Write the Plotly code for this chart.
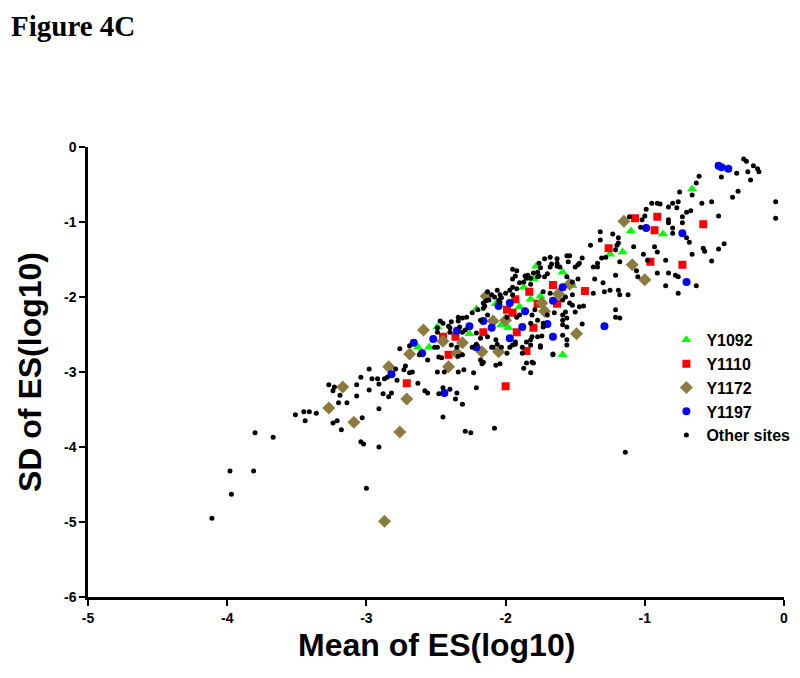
import plotly.graph_objects as go

# ---- data (log10 mean / SD of ES) ----
y1092_x = [-0.66, -1.10, -0.87, -1.25, -1.16, -1.78, -1.59, -1.80, -1.52, -1.87, -1.75, -1.82,
           -2.07, -2.21, -1.90, -1.98, -2.03, -2.26, -2.49, -2.63, -2.55, -1.59]
y1092_y = [-0.56, -1.12, -1.16, -1.43, -1.40, -1.59, -1.67, -1.76, -1.85, -1.87, -1.99, -2.03,
           -2.09, -2.16, -2.13, -2.41, -2.37, -2.49, -2.40, -2.67, -2.67, -2.77]

y1110_x = [-1.07, -0.91, -0.58, -0.93, -1.26, -0.96, -0.73, -1.43, -1.66, -1.63, -1.77, -1.80,
           -1.83, -1.93, -1.99, -1.95, -2.16, -1.92, -2.36, -2.45, -1.85, -2.41, -2.71, -2.00]
y1110_y = [-0.95, -0.93, -1.03, -1.11, -1.35, -1.53, -1.57, -1.92, -1.84, -2.09, -2.09, -2.41,
           -1.93, -2.03, -2.17, -2.21, -2.47, -2.47, -2.53, -2.53, -2.72, -2.77, -3.15, -3.19]

y1172_x = [-1.15, -1.09, -1.00, -1.54, -1.62, -1.74, -1.72, -1.49, -2.14, -2.59, -2.09, -2.00,
           -2.31, -2.45, -2.69, -2.35, -2.17, -2.05, -2.84, -2.41, -3.17, -3.27, -3.09, -2.71,
           -2.76, -2.87]
y1172_y = [-0.99, -1.57, -1.77, -1.83, -1.96, -2.08, -2.19, -2.49, -1.99, -2.44, -2.32, -2.31,
           -2.61, -2.59, -2.76, -2.75, -2.73, -2.73, -2.93, -2.93, -3.20, -3.48, -3.67, -3.36,
           -3.80, -4.99]

y1197_x = [-0.47, -0.45, -0.40, -0.99, -0.73, -0.70, -1.59, -1.66, -1.70, -1.66, -1.29, -2.05,
           -1.97, -1.86, -2.26, -2.16, -2.10, -1.88, -2.35, -1.97, -2.52, -2.66, -2.60, -2.21,
           -2.82, -2.44]
y1197_y = [-0.25, -0.27, -0.29, -1.08, -1.15, -1.80, -1.87, -2.05, -2.36, -2.53, -2.39, -2.12,
           -2.08, -2.19, -2.39, -2.32, -2.41, -2.40, -2.45, -2.55, -2.56, -2.61, -2.75, -2.67,
           -3.03, -3.28]

other_x = [
    -4.11, -3.98, -3.97, -3.80, -3.81, -3.67, -3.51, -3.45, -3.44, -3.41, -3.36,
    -3.27, -3.23, -3.24, -3.19, -3.20, -3.14, -3.24, -3.21, -3.18, -3.07, -3.07, -3.04, -3.03,
    -3.04, -3.02, -3.00, -2.98, -2.98, -2.96, -2.92, -2.91, -2.91, -2.91, -2.87, -2.85, -2.84,
    -2.82, -2.88, -2.78, -2.79, -2.76, -2.73, -2.72, -2.69, -2.67, -2.63, -2.58, -2.56, -2.56,
    -2.62, -2.49, -2.48, -2.45, -2.44, -2.45, -2.40, -2.36, -2.35, -2.34, -2.31, -2.30, -2.29,
    -2.25, -2.23, -2.21, -2.17, -2.16, -2.08, -2.07, -2.04, -1.87, -1.85, -1.82, -1.81, -2.48,
    -2.46, -2.49, -2.35, -2.34, -2.31, -2.21, -2.10, -2.06, -1.99, -1.97, -1.88, -1.80, -1.75,
    -1.66, -1.93, -1.85, -1.56, -1.14,
    -0.29, -0.27, -0.22, -0.19, -0.18, -0.26, -0.24, -0.34, -0.45, -0.33, -0.37, -0.61, -0.63,
    -0.75, -0.66, -0.59, -0.52, -0.06, -0.06, -0.95, -0.91, -0.89, -0.83, -0.80, -0.76, -0.77,
    -0.99, -0.70, -0.67, -0.73, -0.83, -0.83, -0.73, -1.00, -1.02, -1.03, -1.11, -0.80, -0.80,
    -0.47, -0.70, -0.68, -0.43, -0.47, -0.58, -0.57, -0.52, -0.66, -1.32, -1.23, -1.19, -1.19,
    -1.20, -1.21, -1.08, -1.01, -0.98, -0.93, -0.91, -0.85, -1.18, -1.32, -1.39, -1.28, -1.31,
    -1.34, -1.37, -1.45, -1.47, -1.54, -1.55, -1.61, -1.63, -1.68, -1.70, -1.72, -1.77, -1.80,
    -1.50, -1.48, -1.34, -1.21, -1.30, -1.36, -1.48, -1.52, -1.56, -1.52, -1.54, -1.52, -1.50,
    -1.57, -1.59, -1.59, -1.56, -1.47, -1.44, -1.37, -1.29, -1.25, -1.19, -1.18, -1.12, -1.06,
    -1.05, -0.91, -0.83, -0.78, -0.76, -0.85, -0.76, -0.63, -1.21, -1.21, -1.18, -1.45, -1.56,
    -1.73, -1.74, -1.75, -1.81, -1.82, -1.66,
    -1.63, -1.56, -1.63, -1.67, -1.75, -1.77, -1.76, -1.82, -1.87, -1.85, -1.90, -1.95, -1.95,
    -1.97, -1.92, -2.00, -2.04, -2.03, -2.05, -2.08, -2.12, -2.15, -2.16, -2.20, -2.24, -2.28,
    -2.31, -2.34, -2.34, -2.39, -2.41, -2.45, -2.47, -2.49, -2.49, -2.40, -2.18, -2.13, -1.99,
    -1.92, -1.90, -1.81, -1.79, -1.77, -1.82, -1.73, -1.70, -1.65, -1.59, -1.59, -1.57, -1.68,
    -1.73, -1.93, -1.86, -1.92, -1.95, -1.76, -1.72, -1.68, -2.13, -2.10, -2.06, -2.16, -2.31,
    -2.18, -2.13, -2.07, -2.03, -2.09, -1.93, -1.88, -1.82, -1.77, -1.59, -1.56, -2.51, -2.39,
    -2.24,
    -2.69, -2.40, -2.33, -2.29, -2.21, -1.95, -2.18, -1.84, -1.82, -1.95, -2.04, -2.14]
other_y = [
    -4.95, -4.32, -4.63, -3.81, -4.32, -3.87, -3.57, -3.53, -3.65, -3.53, -3.55,
    -3.17, -3.20, -3.25, -3.31, -3.41, -3.41, -3.68, -3.65, -3.77, -3.17, -3.32, -3.07, -3.61,
    -3.93, -3.96, -4.55, -2.96, -3.24, -3.09, -3.09, -3.16, -3.49, -4.00, -3.09, -3.07, -3.33,
    -3.28, -3.29, -3.11, -2.96, -2.69, -2.97, -2.92, -3.01, -3.00, -3.15, -3.25, -3.28, -2.84,
    -2.77, -3.00, -3.29, -3.21, -3.00, -3.60, -3.23, -3.36, -3.28, -3.00, -3.43, -2.97, -3.79,
    -3.81, -3.01, -3.21, -2.89, -2.87, -3.75, -2.91, -2.89, -2.95, -2.88, -3.01, -2.87, -2.80,
    -2.81, -2.67, -2.67, -2.79, -2.77, -2.63, -2.67, -2.63, -2.75, -2.67, -2.75, -2.88, -2.65,
    -2.76, -2.60, -2.60, -2.64, -4.07,
    -0.16, -0.19, -0.25, -0.29, -0.33, -0.33, -0.44, -0.35, -0.40, -0.59, -0.67, -0.39, -0.48,
    -0.60, -0.64, -0.75, -0.73, -0.73, -0.95, -0.75, -0.75, -0.76, -0.80, -0.75, -0.73, -0.81,
    -0.83, -0.87, -0.85, -0.93, -0.97, -1.01, -1.01, -0.92, -0.97, -1.07, -0.93, -1.08, -1.15,
    -0.92, -1.21, -1.27, -1.29, -1.36, -1.35, -1.39, -1.52, -1.43, -1.13, -1.16, -1.21, -1.28,
    -1.31, -1.37, -1.33, -1.43, -1.51, -1.33, -1.40, -1.51, -1.53, -1.24, -1.31, -1.47, -1.48,
    -1.55, -1.60, -1.48, -1.55, -1.45, -1.53, -1.60, -1.59, -1.60, -1.69, -1.73, -1.73, -1.68,
    -1.60, -1.57, -1.60, -1.71, -1.81, -1.76, -1.76, -1.80, -1.73, -1.97, -2.08, -2.11, -2.20,
    -2.20, -2.24, -2.31, -2.28, -2.13, -2.12, -1.95, -1.93, -1.91, -1.91, -1.97, -1.97, -1.65,
    -1.73, -1.68, -1.68, -1.71, -1.73, -1.85, -1.95, -1.85, -2.17, -2.27, -2.28, -2.36, -2.40,
    -2.40, -2.52, -2.67, -2.53, -2.64, -2.77,
    -1.49, -1.45, -1.55, -1.56, -1.61, -1.67, -1.72, -1.75, -1.80, -1.75, -1.81, -1.76, -1.87,
    -1.91, -1.89, -1.95, -1.97, -2.01, -2.04, -2.00, -2.04, -2.12, -2.15, -2.17, -2.21, -2.27,
    -2.28, -2.27, -2.32, -2.33, -2.39, -2.35, -2.32, -2.41, -2.47, -2.41, -2.31, -2.24, -2.27,
    -2.27, -2.24, -2.24, -2.17, -2.31, -2.35, -2.35, -2.24, -2.21, -2.37, -2.04, -2.00, -1.95,
    -1.93, -1.72, -1.72, -1.65, -1.63, -1.55, -1.49, -1.47, -1.93, -1.97, -1.91, -2.08, -2.47,
    -2.55, -2.53, -2.57, -2.67, -2.67, -2.63, -2.67, -2.57, -2.53, -2.51, -2.57, -2.67, -2.64,
    -2.67,
    -2.65, -2.47, -2.40, -2.44, -2.48, -2.64, -2.84, -1.71, -1.83, -1.97, -2.07, -2.05]

x_tickvals = [-5, -4, -3, -2, -1, 0]
x_ticktext = ["-5", "-4", "-3", "-2", "-1", "0"]
y_tickvals = [0, -1, -2, -3, -4, -5, -6]
y_ticktext = ["0", "-1", "-2", "-3", "-4", "-5", "-6"]

FONT = "Liberation Sans, Arial, sans-serif"

fig = go.Figure()
fig.add_trace(go.Scatter(x=y1092_x, y=y1092_y, mode="markers", name="Y1092",
                         marker=dict(symbol="triangle-up", size=9, color="#00ff00")))
fig.add_trace(go.Scatter(x=y1110_x, y=y1110_y, mode="markers", name="Y1110",
                         marker=dict(symbol="square", size=8, color="#ff0000")))
fig.add_trace(go.Scatter(x=y1172_x, y=y1172_y, mode="markers", name="Y1172",
                         marker=dict(symbol="diamond", size=10, color="#8c7a3e")))
fig.add_trace(go.Scatter(x=y1197_x, y=y1197_y, mode="markers", name="Y1197",
                         marker=dict(symbol="circle", size=8, color="#0000ff")))
fig.add_trace(go.Scatter(x=other_x, y=other_y, mode="markers", name="Other sites",
                         marker=dict(symbol="circle", size=5, color="#000000")))

axis_common = dict(showgrid=False, zeroline=False, showline=True, linecolor="black",
                   linewidth=2.5, ticks="outside", ticklen=6, tickwidth=2, tickcolor="black",
                   tickfont=dict(family=FONT, size=14, color="black", weight="bold"),
                   tickmode="array")

fig.update_xaxes(range=[-5, 0], tickvals=x_tickvals, ticktext=x_ticktext, **axis_common)
fig.update_yaxes(range=[-6, 0], tickvals=y_tickvals, ticktext=y_ticktext, **axis_common)

fig.update_layout(
    width=784, height=662,
    margin=dict(l=80, r=8, t=139, b=73, autoexpand=False),
    plot_bgcolor="white", paper_bgcolor="white",
    font=dict(family=FONT, color="black"),
    legend=dict(x=0.831, y=0.609, xanchor="left", yanchor="top",
                font=dict(family=FONT, size=16, color="black", weight="bold"),
                bgcolor="rgba(0,0,0,0)", borderwidth=0),
    annotations=[
        dict(text="<b>Figure 4C</b>", xref="paper", yref="paper", x=-0.113, y=1.308,
             xanchor="left", yanchor="top", showarrow=False,
             font=dict(family="Liberation Serif, Times New Roman, serif", size=29, color="black")),
        dict(text="<b>Mean of ES(log10)</b>", xref="paper", yref="paper", x=0.5, y=-0.107,
             xanchor="center", yanchor="middle", showarrow=False,
             font=dict(family=FONT, size=32, color="black")),
        dict(text="<b>SD of ES(log10)</b>", xref="paper", yref="paper", x=-0.0833, y=0.5,
             xanchor="center", yanchor="middle", showarrow=False, textangle=-90,
             font=dict(family=FONT, size=32, color="black")),
    ],
)

fig.write_html("out.html")
